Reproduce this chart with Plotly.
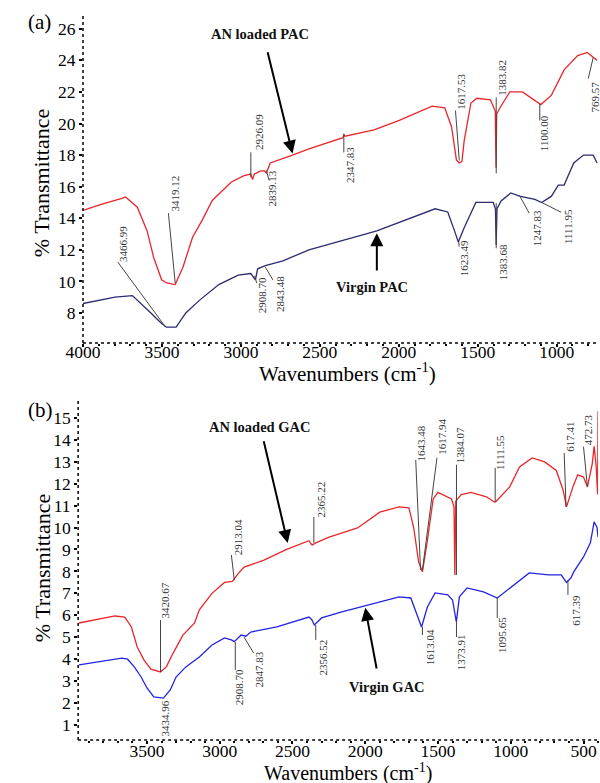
import plotly.graph_objects as go

# ---------------- data ----------------
# Panel (a) PAC
pac_an_wn = [4000, 3880, 3754, 3730, 3656, 3594, 3552, 3502, 3470, 3416, 3367, 3306, 3244, 3183, 3164,
             3079, 3060, 2980, 2937, 2926, 2915, 2876, 2850, 2839, 2814, 2673, 2569, 2354, 2347, 2340,
             2157, 1997, 1789, 1709, 1666, 1635, 1617, 1600, 1586, 1543, 1506, 1420, 1389, 1384, 1380,
             1359, 1297, 1217, 1156, 1107, 1100, 1033, 953, 867, 806, 769, 744]
pac_an_t = [14.5, 14.9, 15.26, 15.35, 14.7, 13.2, 11.5, 10.1, 9.9, 9.8, 10.9, 12.8, 13.9, 15.1, 15.3,
            16.1, 16.3, 16.7, 16.8, 16.45, 16.8, 17.0, 17.0, 16.85, 17.5, 18.0, 18.4, 19.1, 19.3, 19.2,
            19.6, 20.2, 21.1, 21.0, 19.8, 17.7, 17.5, 17.6, 18.9, 21.3, 21.6, 21.5, 20.8, 17.2, 20.6,
            21.0, 22.0, 22.0, 21.6, 21.3, 21.2, 21.8, 23.4, 24.3, 24.5, 24.2, 24.0]

pac_v_wn = [4000, 3797, 3687, 3631, 3570, 3509, 3472, 3410, 3349, 3263, 3140, 3017, 2937, 2908, 2894,
            2845, 2734, 2569, 2139, 1770, 1690, 1647, 1623, 1586, 1512, 1402, 1388, 1383, 1378, 1352,
            1291, 1236, 1138, 1095, 1033, 990, 953, 892, 830, 769, 744]
pac_v_t = [8.6, 9.0, 9.1, 8.6, 8.0, 7.4, 7.1, 7.1, 8.0, 8.8, 9.8, 10.4, 10.5, 10.1, 10.8,
           11.0, 11.3, 12.0, 13.2, 14.6, 14.4, 13.2, 12.5, 13.4, 15.0, 15.0, 14.6, 12.3, 14.6, 15.1,
           15.6, 15.4, 15.2, 15.0, 15.4, 16.1, 16.1, 17.5, 18.0, 18.0, 17.5]

# Panel (b) GAC
gac_an_wn = [3967, 3833, 3720, 3653, 3607, 3567, 3520, 3473, 3407, 3367, 3320, 3253, 3207, 3173, 3140,
             3053, 2967, 2913, 2873, 2833, 2700, 2540, 2387, 2365, 2340, 2253, 2053, 1900, 1767, 1700,
             1667, 1633, 1607, 1573, 1533, 1500, 1407, 1390, 1384, 1378, 1340, 1273, 1167, 1110, 1100,
             1007, 940, 853, 767, 687, 640, 617, 573, 540, 500, 473, 440, 427, 413, 403, 400]
gac_an_t = [5.65, 5.83, 5.97, 5.92, 5.47, 4.56, 3.96, 3.55, 3.42, 3.65, 4.28, 5.1, 5.4, 5.65, 6.25,
            7.0, 7.5, 7.55, 7.9, 8.2, 8.5, 9.0, 9.4, 9.2, 9.3, 9.55, 9.98, 10.7, 10.94, 10.9,
            10.0, 8.43, 7.98, 9.4, 11.3, 11.6, 11.3, 10.94, 7.84, 11.2, 11.5, 11.6, 11.4, 11.15, 11.2,
            11.85, 12.76, 13.17, 12.99, 12.6, 11.7, 10.94, 11.85, 12.4, 12.3, 11.85, 12.9, 13.7, 12.8, 11.5, 15.3]

gac_v_wn = [3967, 3833, 3673, 3633, 3587, 3540, 3500, 3453, 3387, 3340, 3300, 3233, 3140, 3053, 2967,
            2920, 2900, 2853, 2820, 2787, 2607, 2387, 2367, 2350, 2300, 2167, 1940, 1767, 1687, 1640,
            1613, 1573, 1520, 1433, 1400, 1374, 1353, 1300, 1187, 1093, 1007, 873, 740, 653, 617,
            587, 567, 500, 453, 427, 407, 400]
gac_v_t = [3.74, 3.87, 4.05, 4.0, 3.65, 3.19, 2.69, 2.28, 2.23, 2.6, 3.19, 3.65, 4.1, 4.65, 4.97,
           4.88, 4.8, 5.1, 5.05, 5.24, 5.47, 5.92, 5.8, 5.56, 5.88, 6.15, 6.56, 6.84, 6.79, 5.92,
           5.47, 6.38, 7.02, 6.93, 6.7, 5.7, 6.84, 7.25, 7.07, 6.79, 7.25, 7.93, 7.84, 7.84, 7.5,
           7.7, 7.98, 8.66, 9.3, 10.26, 10.0, 9.57]

# peak labels: (text, text_x, text_y, line_x0, line_y0, line_x1, line_y1)
peaks_a = [
    ("2926.09", 2888, 19.43, 2937, 18.17, 2937, 16.59),
    ("2839.13", 2802, 15.9, 2839, 17.03, 2821, 16.4),
    ("2347.83", 2305, 17.35, 2348, 19.37, 2348, 18.17),
    ("1617.53", 1611, 22.02, 1641, 20.82, 1617, 17.67),
    ("1383.82", 1346, 22.9, 1383, 21.65, 1383, 16.84),
    ("1100.00", 1076, 19.37, 1107, 21.27, 1107, 20.19),
    ("769.57", 757, 21.65, 769, 24.17, 800, 22.85),
    ("3419.12", 3416, 15.58, 3459, 14.32, 3416, 9.9),
    ("3466.99", 3748, 12.36, 3779, 11.22, 3478, 7.12),
    ("2908.70", 2864, 9.14, 2913, 10.35, 2900, 9.9),
    ("2843.48", 2753, 9.2, 2845, 10.9, 2796, 10.08),
    ("1623.49", 1586, 11.47, 1620, 12.5, 1618, 12.2),
    ("1383.68", 1340, 11.22, 1383, 14.95, 1383, 12.1),
    ("1247.83", 1125, 13.37, 1236, 15.45, 1174, 14.32),
    ("1111.95", 929, 13.5, 1095, 15.0, 972, 14.38),
]
peaks_b = [
    ("2913.04", 2873, 9.57, 2920, 8.75, 2900, 7.61),
    ("2365.22", 2307, 11.26, 2353, 10.48, 2353, 9.3),
    ("1643.48", 1620, 13.81, 1653, 13.08, 1620, 8.07),
    ("1617.94", 1473, 14.13, 1507, 13.18, 1607, 8.07),
    ("1384.07", 1353, 13.77, 1373, 12.86, 1373, 7.84),
    ("1111.55", 1073, 13.4, 1107, 12.72, 1107, 11.17),
    ("617.41", 593, 14.13, 633, 13.4, 620, 10.94),
    ("472.73", 467, 14.45, 500, 13.68, 473, 11.85),
    ("3420.67", 3373, 6.7, 3407, 5.79, 3407, 3.42),
    ("3434.96", 3373, 1.32, None, None, None, None),
    ("2908.70", 2867, 2.73, 2893, 4.78, 2893, 3.51),
    ("2847.83", 2733, 3.51, 2833, 5.01, 2767, 4.28),
    ("2356.52", 2293, 4.06, 2340, 5.56, 2340, 4.88),
    ("1613.04", 1553, 4.56, 1607, 5.47, 1607, 5.1),
    ("1373.91", 1340, 4.33, 1373, 5.7, 1373, 5.01),
    ("1095.65", 1060, 5.1, 1093, 6.79, 1093, 5.88),
    ("617.39", 553, 6.24, 607, 7.61, 607, 6.93),
]

SERIF = "Liberation Serif, Times New Roman, serif"

fig = go.Figure()
fig.add_trace(go.Scatter(x=pac_an_wn, y=pac_an_t, mode="lines", line=dict(color="#e8262b", width=1.3),
                         xaxis="x", yaxis="y", showlegend=False))
fig.add_trace(go.Scatter(x=pac_v_wn, y=pac_v_t, mode="lines", line=dict(color="#2b2b72", width=1.3),
                         xaxis="x", yaxis="y", showlegend=False))
fig.add_trace(go.Scatter(x=gac_an_wn, y=gac_an_t, mode="lines", line=dict(color="#e8262b", width=1.3),
                         xaxis="x2", yaxis="y2", showlegend=False))
fig.add_trace(go.Scatter(x=gac_v_wn, y=gac_v_t, mode="lines", line=dict(color="#2323e0", width=1.3),
                         xaxis="x2", yaxis="y2", showlegend=False))

annotations = []
shapes = []
for peaks, xr, yr in ((peaks_a, "x", "y"), (peaks_b, "x2", "y2")):
    for (t, tx, ty, x0, y0, x1, y1) in peaks:
        annotations.append(dict(x=tx, y=ty, xref=xr, yref=yr, text=t, textangle=-90, showarrow=False,
                                xanchor="center", yanchor="middle",
                                font=dict(family=SERIF, size=11, color="#333333")))
        if x0 is not None:
            shapes.append(dict(type="line", xref=xr, yref=yr, x0=x0, y0=y0, x1=x1, y1=y1,
                               line=dict(color="#444444", width=1)))

labels = [
    ("AN loaded PAC", 2876, 25.69, "x", "y", 2833, 24.61, 2673, 18.1),
    ("Virgin PAC", 2170, 9.64, "x", "y", 2139, 10.59, 2139, 13.05),
    ("AN loaded GAC", 2720, 14.59, "x2", "y2", 2700, 14.0, 2533, 9.3),
    ("Virgin GAC", 1853, 2.73, "x2", "y2", 1920, 3.51, 2000, 6.34),
]
for (t, tx, ty, xr, yr, ax0, ay0, hx, hy) in labels:
    annotations.append(dict(x=tx, y=ty, xref=xr, yref=yr, text="<b>%s</b>" % t, showarrow=False,
                            xanchor="center", yanchor="middle",
                            font=dict(family=SERIF, size=14.5, color="#111111")))
    annotations.append(dict(x=hx, y=hy, xref=xr, yref=yr, ax=ax0, ay=ay0, axref=xr, ayref=yr,
                            text="", showarrow=True, arrowhead=2, arrowsize=1.3, arrowwidth=2,
                            arrowcolor="#000000"))

# panel letters
annotations.append(dict(x=8 / 600, y=1 - 22 / 783, xref="paper", yref="paper", text="(a)", showarrow=False,
                        xanchor="left", yanchor="middle", font=dict(family=SERIF, size=21, color="#000")))
annotations.append(dict(x=8 / 600, y=1 - 410 / 783, xref="paper", yref="paper", text="(b)", showarrow=False,
                        xanchor="left", yanchor="middle", font=dict(family=SERIF, size=21, color="#000")))

# axis titles
xtitle = "Wavenumbers (cm<sup>-1</sup>)"
ytitle = "% Transmittance"
tfont = dict(family=SERIF, size=22, color="#000")
annotations += [
    dict(x=340 / 600, y=1 - 373 / 783, xref="paper", yref="paper", text=xtitle, showarrow=False,
         xanchor="center", yanchor="middle", font=dict(family=SERIF, size=21, color="#000")),
    dict(x=340 / 600, y=1 - 772 / 783, xref="paper", yref="paper", text=xtitle, showarrow=False,
         xanchor="center", yanchor="middle", font=dict(family=SERIF, size=20, color="#000")),
    dict(x=25 / 600, y=1 - 183 / 783, xref="paper", yref="paper", text=ytitle, textangle=-90,
         xanchor="center", yanchor="middle", showarrow=False, font=tfont),
    dict(x=25 / 600, y=1 - 568 / 783, xref="paper", yref="paper", text=ytitle, textangle=-90,
         xanchor="center", yanchor="middle", showarrow=False, font=tfont),
]

# dotted axis lines
for xr, yr in (("x", "y"), ("x2", "y2")):
    shapes.append(dict(type="line", xref=xr + " domain", yref=yr + " domain", x0=0, x1=1, y0=0, y1=0,
                       line=dict(color="#000", width=1.5, dash="dot")))
    shapes.append(dict(type="line", xref=xr + " domain", yref=yr + " domain", x0=0, x1=0, y0=0, y1=1,
                       line=dict(color="#000", width=1.5, dash="dot")))

tickfont = dict(family=SERIF, size=17.5, color="#000")
common_x = dict(showgrid=False, zeroline=False, showline=False, ticks="outside", ticklen=3, tickwidth=1.5,
                tickcolor="#000", tickfont=tickfont, dtick=500,
                minor=dict(dtick=100, ticks="outside", ticklen=2, tickcolor="#000"))
common_y = dict(showgrid=False, zeroline=False, showline=False, ticks="outside", ticklen=3, tickwidth=1.5,
                tickcolor="#000", tickfont=tickfont)

fig.update_layout(
    width=600, height=783, margin=dict(l=0, r=0, t=0, b=0),
    font=dict(family=SERIF, color="#000"),
    paper_bgcolor="white", plot_bgcolor="white",
    xaxis=dict(common_x, domain=[67 / 600, 598 / 600], range=[4000, 738], anchor="y", ticklabelstandoff=-10),
    yaxis=dict(common_y, domain=[1 - 343 / 783, 1 - 13 / 783], range=[6.1, 27], dtick=2, anchor="x"),
    xaxis2=dict(common_x, domain=[62 / 600, 598 / 600], range=[3973, 400], anchor="y2", ticklabelstandoff=-8),
    yaxis2=dict(common_y, domain=[1 - 740 / 783, 1 - 398 / 783], range=[0.32, 15.9], dtick=1, anchor="x2"),
    annotations=annotations, shapes=shapes,
)

fig.write_html("out.html")
